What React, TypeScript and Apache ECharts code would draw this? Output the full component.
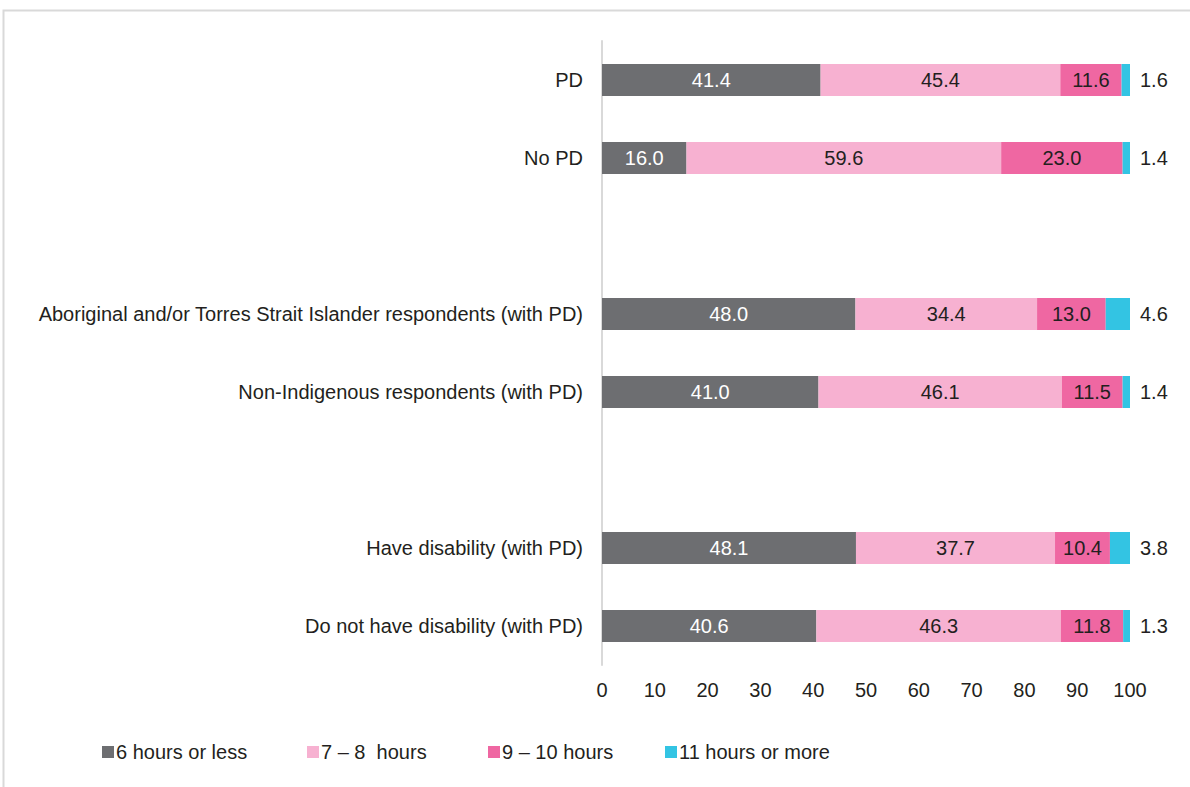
import React, { useEffect, useRef } from "react";
import * as echarts from "echarts";

const categories = [
  "PD",
  "No PD",
  " ",
  "Aboriginal and/or Torres Strait Islander respondents (with PD)",
  "Non-Indigenous respondents (with PD)",
  "  ",
  "Have disability (with PD)",
  "Do not have disability (with PD)",
];
const sixOrLess = [41.4, 16.0, null, 48.0, 41.0, null, 48.1, 40.6];
const sevenToEight = [45.4, 59.6, null, 34.4, 46.1, null, 37.7, 46.3];
const nineToTen = [11.6, 23.0, null, 13.0, 11.5, null, 10.4, 11.8];
const elevenOrMore = [1.6, 1.4, null, 4.6, 1.4, null, 3.8, 1.3];
const seriesNames = ["6 hours or less", "7 – 8  hours", "9 – 10 hours", "11 hours or more"];
const xTicks = [0, 10, 20, 30, 40, 50, 60, 70, 80, 90, 100];

const FONT = "'Liberation Sans', sans-serif";

export default function App() {
  const ref = useRef<HTMLDivElement>(null);
  useEffect(() => {
    if (!ref.current) return;
    const chart = echarts.init(ref.current, null, { renderer: "svg" });
    const colors = ["#6d6e71", "#f7b1d1", "#ef67a2", "#33c4e3"];
    const labelColors = ["#ffffff", "#231f20", "#231f20", "#231f20"];
    const datasets = [sixOrLess, sevenToEight, nineToTen, elevenOrMore];
    const legendLefts = [102, 307, 488, 665];
    chart.setOption({
      animation: false,
      textStyle: { fontFamily: FONT },
      graphic: [
        {
          type: "rect",
          shape: { x: 3.5, y: 10.5, width: 1300, height: 900 },
          style: { fill: "none", stroke: "#d9d9d9", lineWidth: 2 },
        },
      ],
      grid: { left: 602, right: 60, top: 41, bottom: 122, containLabel: false },
      legend: seriesNames.map((n, i) => ({
        left: legendLefts[i],
        top: 742,
        padding: 0,
        itemWidth: 12,
        itemHeight: 12,
        icon: "rect",
        textStyle: { fontSize: 20, color: "#231f20", fontFamily: FONT, padding: [0, 0, 0, -3] },
        data: [n],
      })),
      xAxis: {
        type: "value",
        min: 0,
        max: 100,
        interval: 10,
        axisLine: { show: false },
        axisTick: { show: false },
        splitLine: { show: false },
        axisLabel: {
          fontSize: 20,
          color: "#231f20",
          margin: 15,
          formatter: (v: number) => (xTicks.includes(v) ? String(v) : ""),
        },
      },
      yAxis: {
        type: "category",
        inverse: true,
        data: categories,
        axisLine: { show: true, lineStyle: { color: "#d9d9d9", width: 2 } },
        axisTick: { show: false },
        axisLabel: { fontSize: 20, color: "#231f20", margin: 19 },
      },
      series: datasets.map((d, i) => ({
        name: seriesNames[i],
        type: "bar",
        stack: "total",
        barWidth: 32,
        data: d,
        itemStyle: { color: colors[i] },
        label: {
          show: true,
          position: i === 3 ? "right" : "inside",
          distance: 10,
          color: labelColors[i],
          fontSize: 20,
          fontFamily: FONT,
          formatter: (p: any) => (p.value == null ? "" : Number(p.value).toFixed(1)),
        },
      })),
    });
    return () => chart.dispose();
  }, []);
  return (
    <div
      ref={ref}
      style={{ position: "fixed", left: 0, top: 0, width: 1190, height: 787, background: "#fff" }}
    />
  );
}
